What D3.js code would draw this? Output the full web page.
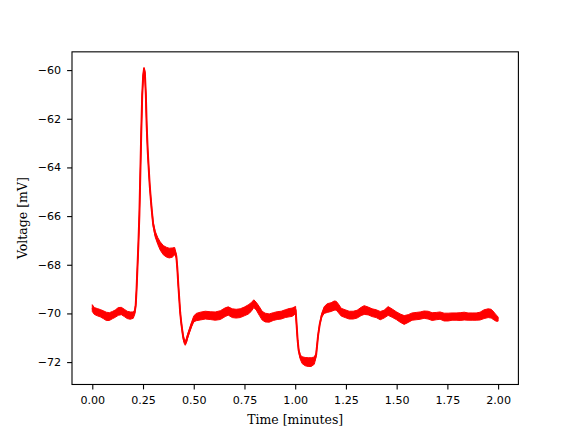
<!DOCTYPE html>
<html>
<head>
<meta charset="utf-8">
<script src="https://cdn.jsdelivr.net/npm/d3@7"></script>
<style>
  html, body { margin: 0; padding: 0; background: #fff; }
  svg { display: block; }
</style>
</head>
<body>
<svg id="chart" width="576" height="432"></svg>
<script>
// ---- data ----
const timeMin = [
  0.000, 0.010, 0.025, 0.039, 0.054, 0.069, 0.084, 0.099, 0.113, 0.128,
  0.143, 0.158, 0.172, 0.187, 0.202, 0.209, 0.214, 0.218, 0.222, 0.227,
  0.232, 0.236, 0.241, 0.246, 0.251, 0.255, 0.259, 0.264, 0.268, 0.273,
  0.278, 0.283, 0.288, 0.293, 0.300, 0.310, 0.323, 0.335, 0.350, 0.365,
  0.379, 0.394, 0.406, 0.414, 0.419, 0.424, 0.429, 0.433, 0.438, 0.443,
  0.448, 0.453, 0.458, 0.463, 0.470, 0.480, 0.490, 0.500, 0.512, 0.532,
  0.557, 0.581, 0.606, 0.631, 0.655, 0.670, 0.690, 0.709, 0.729, 0.749,
  0.768, 0.783, 0.796, 0.808, 0.823, 0.837, 0.852, 0.872, 0.892, 0.911,
  0.931, 0.951, 0.970, 0.985, 0.995, 1.002, 1.007, 1.012, 1.017, 1.025,
  1.034, 1.049, 1.064, 1.079, 1.094, 1.103, 1.108, 1.113, 1.121, 1.131,
  1.143, 1.158, 1.177, 1.192, 1.202, 1.212, 1.227, 1.246, 1.266, 1.286,
  1.305, 1.325, 1.340, 1.360, 1.379, 1.399, 1.419, 1.438, 1.458, 1.478,
  1.498, 1.517, 1.537, 1.557, 1.576, 1.596, 1.616, 1.635, 1.655, 1.675,
  1.695, 1.714, 1.734, 1.754, 1.773, 1.793, 1.813, 1.833, 1.852, 1.872,
  1.892, 1.911, 1.931, 1.951, 1.966, 1.980, 1.990, 2.000
];
const voltageMid = [
  -69.78, -69.90, -69.95, -69.99, -70.05, -70.12, -70.13, -70.07, -70.01, -69.92,
  -69.90, -69.98, -70.06, -70.09, -70.07, -69.95, -69.66, -69.04, -68.22, -67.19,
  -65.96, -64.52, -62.67, -61.03, -60.21, -59.95, -60.10, -61.03, -62.26, -63.29,
  -64.03, -64.73, -65.26, -65.75, -66.33, -66.74, -67.03, -67.23, -67.40, -67.48,
  -67.52, -67.50, -67.44, -67.64, -68.14, -68.84, -69.45, -69.95, -70.36, -70.68,
  -70.97, -71.14, -71.22, -71.14, -70.93, -70.68, -70.44, -70.23, -70.15, -70.11,
  -70.07, -70.09, -70.11, -70.07, -69.95, -69.90, -69.99, -70.01, -69.99, -69.92,
  -69.84, -69.74, -69.60, -69.70, -69.90, -70.09, -70.17, -70.19, -70.13, -70.09,
  -70.07, -70.01, -69.97, -69.95, -69.90, -69.86, -70.48, -71.10, -71.51, -71.79,
  -71.92, -71.98, -72.00, -72.00, -71.94, -71.71, -71.30, -70.89, -70.44, -70.07,
  -69.86, -69.78, -69.74, -69.68, -69.68, -69.78, -69.95, -70.01, -70.07, -70.07,
  -70.03, -69.92, -69.86, -69.90, -69.97, -70.01, -70.09, -70.03, -69.90, -69.99,
  -70.09, -70.19, -70.27, -70.21, -70.13, -70.11, -70.09, -70.05, -70.07, -70.13,
  -70.11, -70.09, -70.15, -70.15, -70.13, -70.13, -70.13, -70.11, -70.13, -70.13,
  -70.13, -70.11, -70.03, -69.99, -70.01, -70.11, -70.19, -70.23
];
const voltageSpread = [
  0.14, 0.14, 0.15, 0.15, 0.16, 0.17, 0.16, 0.15, 0.15, 0.16,
  0.15, 0.15, 0.15, 0.15, 0.13, 0.09, 0.06, 0.04, 0.04, 0.04,
  0.04, 0.04, 0.04, 0.04, 0.04, 0.06, 0.04, 0.04, 0.04, 0.04,
  0.04, 0.04, 0.06, 0.08, 0.09, 0.12, 0.14, 0.17, 0.19, 0.20,
  0.20, 0.19, 0.15, 0.08, 0.04, 0.04, 0.04, 0.04, 0.06, 0.07,
  0.07, 0.09, 0.09, 0.09, 0.09, 0.09, 0.10, 0.12, 0.15, 0.16,
  0.16, 0.16, 0.17, 0.18, 0.18, 0.17, 0.18, 0.18, 0.18, 0.18,
  0.19, 0.18, 0.16, 0.16, 0.18, 0.18, 0.18, 0.17, 0.16, 0.16,
  0.16, 0.16, 0.17, 0.17, 0.16, 0.15, 0.06, 0.04, 0.06, 0.09,
  0.14, 0.17, 0.18, 0.18, 0.15, 0.08, 0.04, 0.04, 0.04, 0.08,
  0.14, 0.18, 0.18, 0.19, 0.18, 0.18, 0.16, 0.16, 0.16, 0.16,
  0.16, 0.17, 0.18, 0.16, 0.16, 0.16, 0.17, 0.16, 0.18, 0.17,
  0.16, 0.17, 0.18, 0.16, 0.15, 0.15, 0.15, 0.15, 0.16, 0.16,
  0.15, 0.15, 0.16, 0.16, 0.15, 0.15, 0.16, 0.16, 0.15, 0.15,
  0.15, 0.16, 0.18, 0.18, 0.18, 0.16, 0.13, 0.09
];
const xTicks = [0.00, 0.25, 0.50, 0.75, 1.00, 1.25, 1.50, 1.75, 2.00];
const yTicks = [-72, -70, -68, -66, -64, -62, -60];
const xLabel = "Time [minutes]";
const yLabel = "Voltage [mV]";

// ---- layout ----
const L = 72, R = 518.4, T = 51.84, B = 384.48;

const svg = d3.select("#chart");
const x = d3.scaleLinear().domain([-0.1, 2.1]).range([L, R]);
const y = d3.scaleLinear().domain([-72.92, -59.25]).range([B, T]);

const pts = timeMin.map((t, i) => ({ t, v: voltageMid[i], s: voltageSpread[i] }));

svg.append("clipPath").attr("id", "clip")
  .append("rect").attr("x", L).attr("y", T).attr("width", R - L).attr("height", B - T);

const g = svg.append("g").attr("clip-path", "url(#clip)");

const area = d3.area()
  .x(d => x(d.t))
  .y0(d => y(d.v - d.s))
  .y1(d => y(d.v + d.s));

g.append("path")
  .datum(pts)
  .attr("d", area)
  .attr("fill", "#ff0000")
  .attr("stroke", "#ff0000")
  .attr("stroke-width", 1)
  .attr("stroke-linejoin", "round");

const line = d3.line().x(d => x(d.t)).y(d => y(d.v));
g.append("path")
  .datum(pts)
  .attr("d", line)
  .attr("fill", "none")
  .attr("stroke", "#ff0000")
  .attr("stroke-width", 2)
  .attr("stroke-linejoin", "round");

// ---- axes ----
const xAxis = d3.axisBottom(x).tickValues(xTicks).tickFormat(d3.format(".2f"))
  .tickSizeInner(4.9).tickSizeOuter(0).tickPadding(6.5);
const yAxis = d3.axisLeft(y).tickValues(yTicks).tickFormat(d => d < 0 ? "\u2212" + Math.abs(d) : d)
  .tickSizeInner(4.9).tickSizeOuter(0).tickPadding(6);

const gx = svg.append("g").attr("transform", `translate(0,${B})`).call(xAxis);
const gy = svg.append("g").attr("transform", `translate(${L},0)`).call(yAxis);
[gx, gy].forEach(a => {
  a.select(".domain").remove();
  a.selectAll(".tick line").attr("stroke", "#000").attr("stroke-width", 1.1);
  a.selectAll(".tick text").attr("fill", "#000")
    .style("font-family", "'DejaVu Sans', sans-serif").style("font-size", "11.1px");
});

// spines
svg.append("rect")
  .attr("x", L).attr("y", T).attr("width", R - L).attr("height", B - T)
  .attr("fill", "none").attr("stroke", "#000").attr("stroke-width", 1.1);

// labels
svg.append("text")
  .attr("x", (L + R) / 2).attr("y", 424)
  .attr("text-anchor", "middle")
  .style("font-family", "'DejaVu Serif', serif").style("font-size", "12.5px")
  .text(xLabel);

svg.append("text")
  .attr("transform", `translate(27,${(T + B) / 2}) rotate(-90)`)
  .attr("text-anchor", "middle")
  .style("font-family", "'DejaVu Serif', serif").style("font-size", "12.5px")
  .text(yLabel);
</script>
</body>
</html>
